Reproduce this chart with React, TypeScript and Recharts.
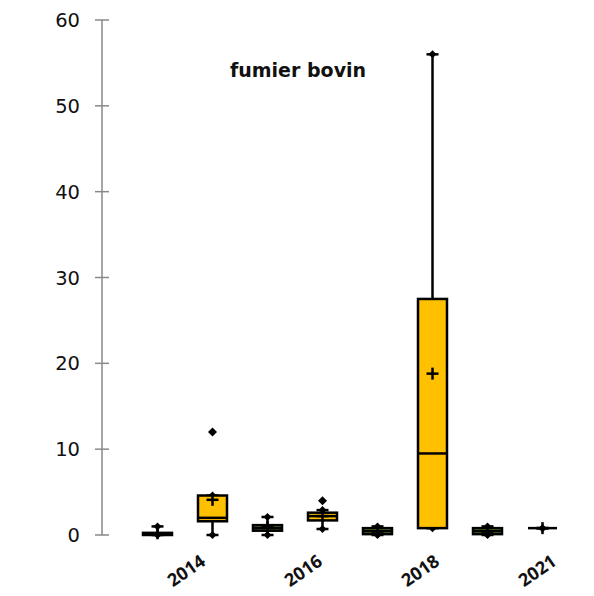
import React from 'react';
import { ComposedChart, Bar, Scatter, XAxis, YAxis } from 'recharts';

const years = ['2013', '2014', '2015', '2016', '2017', '2018', '2019', '2021'];
const mins = [0, 0, 0, 0.7, 0, 0.8, 0, 0.8];
const q1s = [0, 1.6, 0.5, 1.7, 0.1, 0.8, 0.1, 0.8];
const medians = [0.1, 2.0, 0.8, 2.2, 0.45, 9.5, 0.45, 0.8];
const q3s = [0.25, 4.6, 1.15, 2.6, 0.8, 27.5, 0.8, 0.8];
const maxs = [1.0, 4.6, 2.1, 2.9, 1.0, 56, 1.0, 0.8];
const means = [0.2, 4.1, 0.9, 2.2, 0.4, 18.8, 0.4, 0.8];
const outliers: (number | null)[] = [null, 12, null, 4.0, null, null, null, null];
const boxColors = ['#5E8F30', '#FFC000', '#5E8F30', '#FFC000', '#5E8F30', '#FFC000', '#5E8F30', '#FFC000'];
const yTicks = [0, 10, 20, 30, 40, 50, 60];
const labelYears = ['2014', '2016', '2018', '2021'];
const title = 'fumier bovin';

const data = years.map((year, i) => ({
  year,
  min: mins[i],
  q1: q1s[i],
  median: medians[i],
  q3: q3s[i],
  max: maxs[i],
  mean: means[i],
  outlier: outliers[i],
  color: boxColors[i],
}));

const FONT = 'DejaVu Sans, sans-serif';

const diamond = (cx: number, cy: number, r: number) =>
  `M${cx},${cy - r} L${cx + r},${cy} L${cx},${cy + r} L${cx - r},${cy} Z`;

const WhiskerShape = (p: any) => {
  const { x, y, width, height } = p;
  if (x == null || y == null) return null;
  const cx = x + width / 2;
  const top = y;
  const bottom = y + height;
  return (
    <g>
      <line x1={cx} x2={cx} y1={top} y2={bottom} stroke="#000" strokeWidth={2.5} />
      <line x1={cx - 6} x2={cx + 6} y1={top} y2={top} stroke="#000" strokeWidth={2.5} />
      <line x1={cx - 6} x2={cx + 6} y1={bottom} y2={bottom} stroke="#000" strokeWidth={2.5} />
      <path d={diamond(cx, top, 4)} fill="#000" />
      <path d={diamond(cx, bottom, 4)} fill="#000" />
    </g>
  );
};

const BoxShape = (p: any) => {
  const { x, y, width, height, payload } = p;
  if (x == null || y == null) return null;
  return (
    <rect
      x={x}
      y={y}
      width={width}
      height={Math.max(height, 0)}
      fill={payload.color}
      stroke="#000"
      strokeWidth={2.5}
    />
  );
};

const MedianShape = (p: any) => {
  const { cx, cy } = p;
  if (!Number.isFinite(cx) || !Number.isFinite(cy)) return null;
  return <line x1={cx - 14.5} x2={cx + 14.5} y1={cy} y2={cy} stroke="#000" strokeWidth={2.5} />;
};

const MeanShape = (p: any) => {
  const { cx, cy } = p;
  if (!Number.isFinite(cx) || !Number.isFinite(cy)) return null;
  return (
    <g>
      <line x1={cx - 6} x2={cx + 6} y1={cy} y2={cy} stroke="#000" strokeWidth={2.5} />
      <line x1={cx} x2={cx} y1={cy - 6} y2={cy + 6} stroke="#000" strokeWidth={2.5} />
    </g>
  );
};

const OutlierShape = (p: any) => {
  const { cx, cy, payload } = p;
  if (payload == null || payload.outlier == null) return null;
  if (!Number.isFinite(cx) || !Number.isFinite(cy)) return null;
  return <path d={diamond(cx, cy, 4.5)} fill="#000" />;
};

const YTick = (p: any) => {
  const { x, y, payload } = p;
  return (
    <g>
      <line x1={x + 15} x2={x + 29} y1={y} y2={y} stroke="#898989" strokeWidth={1.5} />
      <text x={x} y={y} dy="0.36em" textAnchor="end" fontFamily={FONT} fontSize={19.5} fill="#111">
        {payload.value}
      </text>
    </g>
  );
};

const XTick = (p: any) => {
  const { x, y, payload } = p;
  const ax = x + 17;
  const ay = y + 29;
  return (
    <text
      x={ax}
      y={ay}
      textAnchor="end"
      transform={`rotate(-35, ${ax}, ${ay})`}
      fontFamily="Open Sans, sans-serif"
      fontWeight="bold"
      fontSize={18}
      fill="#111"
    >
      {payload.value}
    </text>
  );
};

export default function App() {
  return (
    <div style={{ position: 'absolute', left: 0, top: 0, width: 594, height: 596, background: '#fff' }}>
      <ComposedChart
        width={594}
        height={596}
        data={data}
        margin={{ top: 20, right: 24, bottom: 11, left: 0 }}
        barGap={-29}
      >
        <XAxis
          xAxisId="labels"
          dataKey="year"
          type="category"
          height={50}
          axisLine={false}
          tickLine={false}
          tickSize={0}
          tickMargin={0}
          ticks={labelYears}
          interval={0}
          tick={<XTick />}
        />
        <XAxis
          dataKey="year"
          type="category"
          height={0}
          axisLine={false}
          tickLine={false}
          tick={false}
          padding={{ left: 28, right: 0 }}
        />
        <YAxis
          type="number"
          domain={[0, 60]}
          ticks={yTicks}
          width={102}
          axisLine={{ stroke: '#898989', strokeWidth: 1.5 }}
          tickLine={false}
          tickSize={0}
          tickMargin={22}
          interval={0}
          tick={<YTick />}
        />
        <Bar
          dataKey={(d: any) => [d.min, d.max]}
          barSize={29}
          isAnimationActive={false}
          shape={<WhiskerShape />}
        />
        <Bar
          dataKey={(d: any) => [d.q1, d.q3]}
          barSize={29}
          isAnimationActive={false}
          shape={<BoxShape />}
        />
        <Scatter dataKey="median" isAnimationActive={false} shape={<MedianShape />} />
        <Scatter dataKey="mean" isAnimationActive={false} shape={<MeanShape />} />
        <Scatter dataKey="outlier" isAnimationActive={false} shape={<OutlierShape />} />
      </ComposedChart>
      <div
        style={{
          position: 'absolute',
          left: 230,
          top: 59,
          fontFamily: FONT,
          fontWeight: 'bold',
          fontSize: 19,
          lineHeight: '22px',
          color: '#111',
          whiteSpace: 'nowrap',
        }}
      >
        {title}
      </div>
    </div>
  );
}
